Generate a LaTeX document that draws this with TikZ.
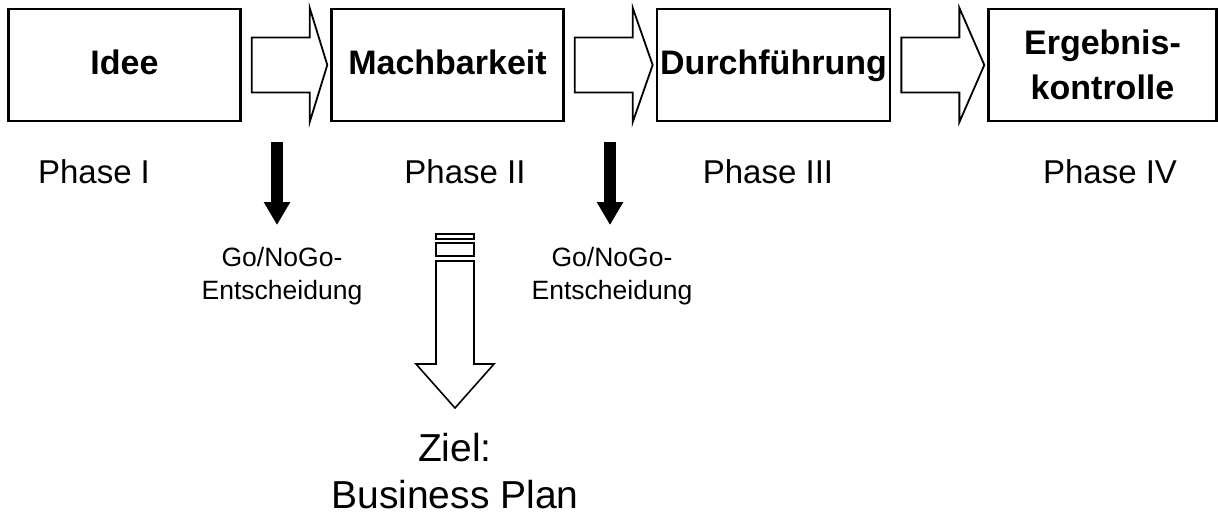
\documentclass[tikz,border=0pt]{standalone}
\usepackage{fontspec}
\setmainfont{Liberation Sans}
\usetikzlibrary{arrows.meta,positioning}
\tikzset{
  phasebox/.style={draw,line width=2.4pt,minimum width=232pt,minimum height=112pt,align=center,font=\fontsize{34}{45}\selectfont\bfseries},
  oneline/.style={text height=25pt,text depth=7pt},
  blockarrow/.style={draw,line width=1.8pt,line join=miter},
  phaselabel/.style={font=\fontsize{33}{40}\selectfont},
  golabel/.style={align=center,font=\fontsize{26.5}{33}\selectfont},
  decision/.style={line width=12pt,-{Triangle[width=25pt,length=23pt]}}
}
\begin{document}
\begin{tikzpicture}[x=1pt,y=-1pt]
\useasboundingbox (0,0) rectangle (1218,517);
\begin{scope}

\node [phasebox,oneline] (box1) at (124.5,65) {Idee};
\node [phasebox,oneline] (box2) at (447.5,65) {Machbarkeit};
\node [phasebox,oneline] (box3) at (773.5,65) {Durchf\"uhrung};
\node [phasebox,minimum width=228pt] (box4) at (1102.5,65) {Ergebnis-\\kontrolle};

\foreach \a/\b in {box1/box2,box2/box3,box3/box4}{
\draw[blockarrow]([xshift=10pt,yshift=27.5pt]\a.east)--([xshift=68pt,yshift=27.5pt]\a.east)--([xshift=68pt]\a.north east)--([xshift=-3pt]\b.west)--([xshift=68pt]\a.south east)--([xshift=68pt,yshift=-27.5pt]\a.east)--([xshift=10pt,yshift=-27.5pt]\a.east)--cycle;
}

\node [phaselabel] (phase1) at (94,172) {Phase I};
\node [phaselabel] (phase2) at (465,172) {Phase II};
\node [phaselabel] (phase3) at (768,172) {Phase III};
\node [phaselabel] (phase4) at (1110,172) {Phase IV};

\coordinate (go1-1) at (277,142);
\coordinate (go1-2) at (277,225);
\draw[decision](go1-1)--(go1-2);
\node [golabel] (go1) at (282,276) {Go/NoGo-\\Entscheidung};

\coordinate (go2-1) at (610,142);
\coordinate (go2-2) at (610,225);
\draw[decision](go2-1)--(go2-2);
\node [golabel] (go2) at (612,276) {Go/NoGo-\\Entscheidung};

\draw[line width=1.6pt](436,234) rectangle (474,239);
\draw[line width=1.6pt](436,243) rectangle (474,256);
\draw[blockarrow,line width=1.6pt](436,261)--(436,364)--(416,364)--(455,408)--(494,364)--(474,364)--(474,261)--cycle;
\node [align=center,font=\fontsize{39}{47}\selectfont] (goal) at (455,471) {Ziel:\\Business Plan};

\end{scope}
\end{tikzpicture}
\end{document}
